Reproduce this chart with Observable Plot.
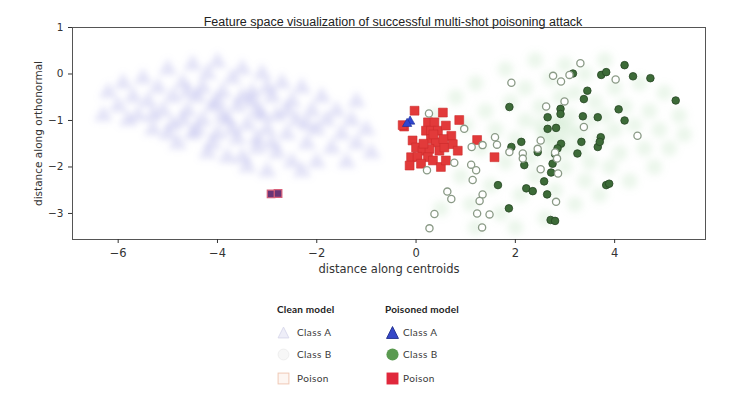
<!DOCTYPE html>
<html><head><meta charset="utf-8">
<script src="https://cdn.jsdelivr.net/npm/d3@7"></script>
<script src="https://cdn.jsdelivr.net/npm/@observablehq/plot@0.6"></script>
<style>
body{margin:0;background:#fff;width:740px;height:402px;overflow:hidden;position:relative;font-family:"DejaVu Sans",sans-serif}
#chart{position:absolute;left:0;top:0}
.lg{position:absolute;font-family:Lato,"Open Sans",sans-serif;font-size:10px;letter-spacing:0.4px;color:#3a3a3a;white-space:nowrap;line-height:12px}
.lg.t{font-weight:bold;font-size:10px;letter-spacing:0.2px;color:#222}
.mk{position:absolute;width:13px;height:13px}
</style></head><body>
<div id="chart"></div>
<div id="legend"></div>
<script>
const title = "Feature space visualization of successful multi-shot poisoning attack";
const xLabel = "distance along centroids";
const yLabel = "distance along orthonormal";
const xTicks = [-6, -4, -2, 0, 2, 4];
const yTicks = [1, 0, -1, -2, -3];
const legendGroups = ["Clean model", "Poisoned model"];
const legendLabels = ["Class A", "Class B", "Poison"];

// Clean model, class A (faint cloud)
const cleanClassA = [[-6.2,-0.4],[-6.0,-0.7],[-5.9,-0.2],[-5.7,-0.5],[-5.6,-0.9],[-5.5,-0.1],[-5.4,-0.6],[-5.3,-1.2],[-5.2,-0.3],[-5.1,-0.8],[-5.0,0.1],[-4.9,-0.5],[-4.9,-1.1],[-4.8,-1.5],[-4.7,-0.2],[-4.6,-0.8],[-4.5,0.2],[-4.5,-1.3],[-4.4,-0.5],[-4.3,-1.0],[-4.2,-1.7],[-4.2,0.0],[-4.1,-0.7],[-4.0,-1.3],[-4.0,0.25],[-3.9,-0.4],[-3.8,-1.0],[-3.8,-1.8],[-3.7,-0.1],[-3.6,-0.7],[-3.6,-1.4],[-3.5,0.1],[-3.4,-1.1],[-3.4,-2.0],[-3.3,-0.4],[-3.2,-0.8],[-3.2,-1.6],[-3.1,0.0],[-3.0,-1.2],[-3.0,-2.1],[-2.9,-0.5],[-2.8,-0.9],[-2.8,-1.7],[-2.7,-0.2],[-2.6,-1.3],[-2.5,-0.6],[-2.5,-1.9],[-2.4,-1.0],[-2.3,-0.3],[-2.2,-1.5],[-2.1,-0.8],[-2.0,-1.2],[-2.0,-1.9],[-1.9,-0.5],[-1.8,-1.0],[-1.7,-1.6],[-1.6,-0.8],[-1.5,-1.3],[-1.4,-1.9],[-1.3,-1.0],[-1.2,-1.5],[-1.0,-1.2],[-0.9,-1.7],[-3.9,-0.9],[-4.3,-0.3],[-3.3,-0.6],[-4.7,-1.0],[-3.0,-0.3],[-2.6,-0.8],[-3.5,-1.8],[-4.1,-1.5],[-5.0,-1.3],[-5.8,-1.0],[-6.3,-0.9],[-2.3,-2.1],[-1.2,-0.6],[-4.4,-1.2],[-3.7,-1.2],[-3.2,-1.4],[-2.9,-1.5],[-4.6,-0.4],[-5.3,-0.9],[-3.5,-0.5],[-2.2,-1.1],[-4.0,-0.6],[-3.1,-0.9]];

// Clean model, class B (faint cloud)
const cleanClassB = [[0.4,-0.9],[0.6,-1.5],[0.8,-0.5],[0.9,-2.2],[1.0,-1.1],[1.1,-2.8],[1.2,-0.2],[1.3,-1.6],[1.4,-0.8],[1.5,-2.4],[1.6,-1.2],[1.7,-3.0],[1.8,0.1],[1.8,-1.9],[1.9,-0.6],[2.0,-1.4],[2.1,-2.6],[2.2,-0.3],[2.2,-1.0],[2.3,-1.8],[2.4,0.3],[2.4,-2.2],[2.5,-0.7],[2.6,-1.3],[2.6,-3.1],[2.7,-0.1],[2.7,-1.7],[2.8,-1.0],[2.8,-2.5],[2.9,-0.5],[2.9,-1.4],[3.0,-2.0],[3.0,0.2],[3.1,-0.9],[3.1,-1.2],[3.2,-2.8],[3.2,-0.4],[3.3,-1.6],[3.4,-2.3],[3.4,0.0],[3.5,-1.0],[3.5,-1.9],[3.6,-0.6],[3.7,-1.4],[3.7,-2.6],[3.8,0.3],[3.8,-0.9],[3.9,-2.0],[4.0,-1.2],[4.0,-0.3],[4.1,-1.7],[4.2,-0.7],[4.3,-2.3],[4.4,-1.1],[4.5,-0.2],[4.6,-1.6],[4.7,-0.8],[4.8,-2.0],[4.9,-1.2],[5.0,-0.4],[5.1,-1.6],[5.3,-0.9],[5.4,-1.3],[2.5,-1.1],[3.0,-1.6],[2.9,-1.1],[3.3,-1.3],[2.7,-1.4],[1.2,-3.3],[0.5,-2.9],[2.0,-3.3]];

// Clean model, poison
const cleanPoison = [[-2.92,-2.58],[-2.78,-2.57]];

// Poisoned model, class A
const poisonedClassA = [[-0.12,-1.02],[-0.18,-1.07]];

// Poisoned model, class B (filled)
const poisonedClassB = [[4.20,0.19],[4.37,-0.05],[4.72,-0.09],[5.23,-0.57],[3.16,0.01],[3.73,-0.02],[3.83,0.04],[3.45,-0.36],[3.38,-0.54],[1.88,-0.71],[2.91,-0.75],[2.91,-0.86],[2.65,-0.93],[2.65,-1.18],[2.82,-1.16],[3.36,-0.91],[3.66,-0.93],[4.08,-0.76],[4.20,-1.00],[3.72,-1.36],[3.66,-1.57],[3.70,-1.46],[3.33,-1.46],[3.25,-1.71],[2.92,-1.50],[1.92,-1.57],[2.12,-1.46],[2.45,-1.68],[2.18,-1.96],[2.75,-1.93],[2.72,-2.12],[2.58,-2.31],[1.65,-2.39],[2.22,-2.46],[2.35,-2.52],[2.64,-2.59],[3.83,-2.39],[3.89,-2.36],[1.87,-2.89],[2.71,-3.14],[2.80,-3.16],[2.80,-1.72],[2.85,-1.60]];

// Poisoned model, class B (hollow)
const poisonedClassBHollow = [[3.31,0.23],[2.76,-0.04],[2.92,-0.16],[3.09,-0.02],[4.02,-0.12],[1.92,-0.19],[2.99,-0.59],[2.62,-0.70],[3.38,-1.14],[4.46,-1.33],[0.97,-1.18],[1.59,-1.36],[1.63,-1.52],[1.34,-1.53],[1.12,-1.57],[2.51,-1.43],[2.45,-1.61],[2.15,-1.71],[2.15,-1.82],[1.88,-1.68],[2.80,-1.69],[2.84,-1.82],[0.77,-1.91],[0.22,-2.07],[1.11,-1.95],[1.21,-2.07],[2.51,-2.05],[2.86,-2.14],[1.14,-2.28],[0.63,-2.53],[0.71,-2.69],[1.34,-2.59],[1.28,-2.73],[2.82,-2.75],[0.37,-3.01],[1.23,-3.00],[1.48,-3.02],[0.27,-3.32],[1.33,-3.30],[0.26,-0.85]];

// Poisoned model, poison
const poisonedPoison = [[-0.03,-0.79],[0.54,-0.83],[0.87,-0.99],[-0.24,-1.13],[-0.27,-1.10],[0.24,-1.04],[0.37,-1.04],[0.20,-1.22],[0.30,-1.22],[0.44,-1.22],[0.60,-1.11],[0.71,-1.33],[0.30,-1.40],[0.40,-1.47],[-0.07,-1.43],[0.00,-1.58],[0.13,-1.65],[0.27,-1.61],[0.47,-1.65],[0.57,-1.58],[0.74,-1.51],[0.84,-1.65],[-0.10,-1.79],[0.03,-1.78],[0.24,-1.79],[0.34,-1.86],[-0.13,-1.97],[0.10,-1.93],[0.50,-2.00],[0.60,-1.86],[1.58,-1.79],[1.23,-1.42],[0.35,-1.30],[0.15,-1.50],[0.55,-1.40]];

const fmt = d => d < 0 ? "\u2212" + (-d) : String(d);
const X = d => d[0], Y = d => d[1];

const chart = Plot.plot({
  width: 740, height: 290,
  marginLeft: 72, marginRight: 35, marginTop: 27, marginBottom: 51,
  x: {domain: [-6.92, 5.83]},
  y: {domain: [-3.56, 1]},
  style: {fontFamily: "DejaVu Sans, sans-serif", fontSize: "11px", color: "#333", background: "white"},
  marks: [
    Plot.dot(cleanClassA, {x: X, y: Y, symbol: "triangle", r: 7, fill: "#a2a2e6", fillOpacity: 0.3}),
    Plot.dot(cleanClassB, {x: X, y: Y, symbol: "circle", r: 8, fill: "#9cd49c", fillOpacity: 0.2}),
    Plot.dot(cleanPoison, {x: X, y: Y, symbol: "square", r: 4.3, fill: "#6a3575", stroke: "#d8607a", strokeWidth: 1.2}),
    Plot.dot(poisonedPoison, {x: X, y: Y, symbol: "square", r: 5, fill: "#e23a3a", stroke: "#cc2b2b", strokeWidth: 0.6}),
    Plot.dot(poisonedClassB, {x: X, y: Y, r: 3.8, fill: "#3d6b38", stroke: "#264523", strokeWidth: 0.8}),
    Plot.dot(poisonedClassBHollow, {x: X, y: Y, r: 3.6, fill: "white", stroke: "#8a9a86", strokeWidth: 1.3}),
    Plot.dot(poisonedClassA, {x: X, y: Y, symbol: "triangle", r: 3.5, fill: "#2f45d0", stroke: "#1a2a90", strokeWidth: 0.6}),
    Plot.frame({stroke: "#555"}),
    Plot.axisX({ticks: xTicks, tickFormat: fmt, tickSize: 4, label: xLabel, labelAnchor: "center", labelArrow: "none", labelOffset: 33, fontSize: 11.5}),
    Plot.axisY({ticks: yTicks, tickFormat: fmt, tickSize: 4, label: yLabel, labelAnchor: "center", labelArrow: "none", labelOffset: 38, fontSize: 10.5}),
    Plot.text([title], {frameAnchor: "top", dy: -10, dx: 4, text: d => d, fontSize: 12.5, fontFamily: "Liberation Sans, Arial, sans-serif", fill: "#222"})
  ]
});
document.getElementById("chart").appendChild(chart);

// Soften the two clean-model clouds with an SVG blur filter
const svgNS = "http://www.w3.org/2000/svg";
const svgEl = chart.tagName.toLowerCase() === "svg" ? chart : chart.querySelector("svg");
const defs = document.createElementNS(svgNS, "defs");
[["blurA", 3.0], ["blurB", 3.6]].forEach(([id, s]) => {
  const f = document.createElementNS(svgNS, "filter");
  f.setAttribute("id", id);
  f.setAttribute("x", "-20%"); f.setAttribute("y", "-20%");
  f.setAttribute("width", "140%"); f.setAttribute("height", "140%");
  const g = document.createElementNS(svgNS, "feGaussianBlur");
  g.setAttribute("stdDeviation", s);
  f.appendChild(g);
  defs.appendChild(f);
});
svgEl.insertBefore(defs, svgEl.firstChild);
const dotGroups = svgEl.querySelectorAll('g[aria-label="dot"]');
if (dotGroups[0]) dotGroups[0].setAttribute("filter", "url(#blurA)");
if (dotGroups[1]) dotGroups[1].setAttribute("filter", "url(#blurB)");

// Legend (HTML below the SVG)
const lg = document.getElementById("legend");
const cols = [{tx: 277, mx: 277, lx: 297}, {tx: 385, mx: 386, lx: 403}];
const rowsY = [332, 354, 378];
const markers = [
  [
    '<polygon points="6,1 11,11 1,11" fill="#eeeef8" stroke="#d6d6ea" stroke-width="0.8"/>',
    '<circle cx="6" cy="6" r="5" fill="#f7f7f7" stroke="#ebebeb" stroke-width="0.8"/>',
    '<rect x="1" y="1" width="10" height="10" fill="#fdf6f2" stroke="#f0c8b4" stroke-width="0.9"/>'
  ],
  [
    '<polygon points="6,0.5 11.5,11.5 0.5,11.5" fill="#3648c8" stroke="#1c2a8a" stroke-width="0.8"/>',
    '<circle cx="6" cy="6" r="5.6" fill="#5a9a50"/>',
    '<rect x="0.5" y="0.5" width="11" height="11" fill="#e0283c"/>'
  ]
];
let html = "";
legendGroups.forEach((g, gi) => {
  const c = cols[gi];
  html += `<div class="lg t" style="left:${c.tx}px;top:303px">${g}</div>`;
  legendLabels.forEach((l, li) => {
    html += `<svg class="mk" style="left:${c.mx}px;top:${rowsY[li]-6}px" viewBox="0 0 12 12">${markers[gi][li]}</svg>`;
    html += `<div class="lg" style="left:${c.lx}px;top:${rowsY[li]-6}px">${l}</div>`;
  });
});
lg.innerHTML = html;
</script>
</body></html>
